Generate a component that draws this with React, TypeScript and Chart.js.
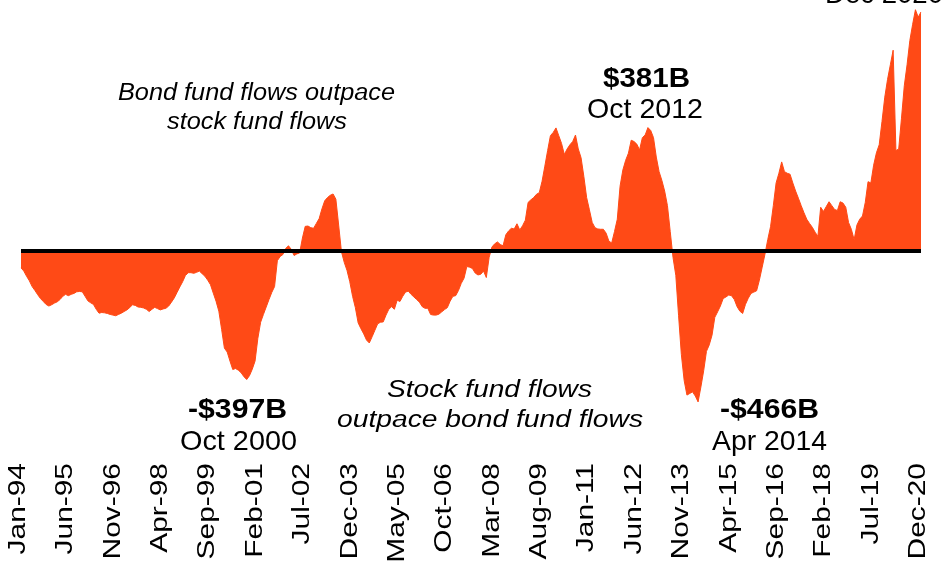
import React, { useEffect, useRef } from 'react';
import { Chart, registerables } from 'chart.js';

Chart.register(...registerables);

// ---- Data -------------------------------------------------------------
const MONTHS = ['Jan', 'Feb', 'Mar', 'Apr', 'May', 'Jun', 'Jul', 'Aug', 'Sep', 'Oct', 'Nov', 'Dec'];
const FIRST_YEAR = 1994;
const LAST_YEAR = 2020;

const categories: string[] = [];
for (let y = FIRST_YEAR; y <= LAST_YEAR; y++) {
  for (const m of MONTHS) categories.push(`${m}-${String(y % 100).padStart(2, '0')}`);
}

// Bond fund flows minus stock fund flows, trailing 12m, $ billions (monthly, Jan-94 .. Dec-20)
const netFlows: number[] = [
  -52, -62, -78, -92, -110, -122, -135, -147, -156, -165, -170, -166, // 1994
  -161, -157, -150, -140, -134, -138, -134, -131, -126, -125, -126, -140, // 1995
  -154, -160, -165, -180, -192, -190, -191, -193, -196, -198, -200, -196, // 1996
  -192, -187, -182, -175, -166, -168, -173, -174, -176, -180, -187, -180, // 1997
  -174, -178, -182, -179, -177, -170, -158, -145, -128, -111, -95, -76, // 1998
  -67, -67, -69, -66, -62, -70, -78, -90, -104, -130, -155, -186, // 1999
  -242, -300, -312, -340, -366, -363, -368, -376, -388, -397, -385, -365, // 2000
  -340, -270, -220, -196, -173, -150, -128, -110, -30, -17, -11, 8, // 2001
  16, 5, -14, -9, -6, 40, 76, 77, 72, 70, 85, 100, // 2002
  130, 155, 165, 172, 176, 160, 80, -2, -35, -60, -95, -140, // 2003
  -175, -222, -240, -256, -275, -284, -265, -245, -225, -220, -219, -198, // 2004
  -180, -172, -180, -152, -156, -140, -127, -124, -134, -142, -150, -158, // 2005
  -172, -177, -177, -196, -198, -198, -195, -188, -181, -175, -155, -140, // 2006
  -138, -122, -100, -84, -48, -50, -54, -68, -74, -72, -62, -82, // 2007
  -20, 12, 22, 28, 20, 16, 50, 62, 70, 68, 84, 65, // 2008
  78, 95, 150, 158, 165, 175, 180, 215, 262, 310, 356, 366, // 2009
  380, 356, 332, 298, 315, 328, 338, 358, 315, 288, 230, 165, // 2010
  127, 88, 72, 68, 67, 67, 55, 30, 25, 60, 98, 200, // 2011
  250, 280, 302, 342, 338, 330, 312, 350, 358, 381, 372, 350, // 2012
  290, 245, 218, 185, 140, 60, -20, -75, -200, -320, -400, -445, // 2013
  -440, -435, -448, -466, -420, -370, -310, -290, -260, -205, -188, -170, // 2014
  -147, -142, -136, -138, -150, -172, -186, -193, -165, -146, -131, -127, // 2015
  -123, -90, -50, -10, 35, 75, 140, 210, 240, 275, 245, 240, // 2016
  237, 210, 185, 163, 140, 118, 98, 85, 73, 58, 45, 135, // 2017
  122, 137, 152, 140, 128, 125, 152, 148, 135, 88, 67, 35, // 2018
  80, 98, 108, 150, 214, 210, 265, 303, 328, 400, 475, 530, // 2019
  575, 620, 310, 315, 410, 510, 575, 650, 700, 745, 722, 738, // 2020
];

const zeroLine: number[] = categories.map(() => 0);

const tickLabels = [
  'Jan-94', 'Jun-95', 'Nov-96', 'Apr-98', 'Sep-99', 'Feb-01', 'Jul-02', 'Dec-03', 'May-05', 'Oct-06',
  'Mar-08', 'Aug-09', 'Jan-11', 'Jun-12', 'Nov-13', 'Apr-15', 'Sep-16', 'Feb-18', 'Jul-19', 'Dec-20',
];

const calloutValues = ['$381B', '-$397B', '-$466B'];
const calloutDates = ['Oct 2012', 'Oct 2000', 'Apr 2014', 'Dec 2020'];
const noteBond = ['Bond fund flows outpace', 'stock fund flows'];
const noteStock = ['Stock fund flows', 'outpace bond fund flows'];

// ---- Drawing helpers ----------------------------------------------------
const ORANGE = 'rgb(255,74,22)';
const FONT = '"Liberation Sans", Arial, sans-serif';

function fitText(ctx: CanvasRenderingContext2D, text: string, cx: number, base: number, font: string, width: number) {
  ctx.save();
  ctx.font = font;
  const w = ctx.measureText(text).width;
  const s = width / w;
  ctx.translate(cx, base);
  ctx.scale(s, 1);
  ctx.textAlign = 'center';
  ctx.textBaseline = 'alphabetic';
  ctx.fillStyle = '#000';
  ctx.fillText(text, 0, 0);
  ctx.restore();
}

const overlayPlugin = {
  id: 'overlay',
  afterDraw(chart: any) {
    const ctx: CanvasRenderingContext2D = chart.ctx;
    const xs = chart.scales.x;
    // x tick labels, rotated
    tickLabels.forEach((lab) => {
      const idx = categories.indexOf(lab);
      const x = xs.getPixelForValue(idx);
      ctx.save();
      ctx.translate(x, 463);
      ctx.rotate(-Math.PI / 2);
      ctx.scale(1.3, 1);
      ctx.font = `23px ${FONT}`;
      ctx.fillStyle = '#000';
      ctx.textAlign = 'right';
      ctx.textBaseline = 'alphabetic';
      ctx.fillText(lab, 0, 4);
      ctx.restore();
    });

    const it = `italic 23px ${FONT}`;
    const bd = `bold 28px ${FONT}`;
    const rg = `28px ${FONT}`;
    fitText(ctx, noteBond[0], 256.5, 100, it, 277);
    fitText(ctx, noteBond[1], 257, 129, it, 180);
    fitText(ctx, noteStock[0], 489.5, 397, it, 205);
    fitText(ctx, noteStock[1], 490, 427, it, 306);

    fitText(ctx, calloutValues[0], 646.5, 87, bd, 87);
    fitText(ctx, calloutDates[0], 645, 118, rg, 116);
    fitText(ctx, calloutValues[1], 237.5, 418, bd, 99);
    fitText(ctx, calloutDates[1], 238.5, 450, rg, 117);
    fitText(ctx, calloutValues[2], 769.5, 418, bd, 99);
    fitText(ctx, calloutDates[2], 769.5, 450, rg, 115);
    fitText(ctx, calloutDates[3], 884, 3, rg, 118);
  },
};

export default function App() {
  const ref = useRef<HTMLCanvasElement | null>(null);
  useEffect(() => {
    if (!ref.current) return;
    const chart = new Chart(ref.current, {
      type: 'line',
      data: {
        labels: categories,
        datasets: [
          {
            label: 'zero',
            data: zeroLine,
            borderColor: '#000',
            borderWidth: 4,
            borderCapStyle: 'butt',
            pointRadius: 0,
            fill: false,
          },
          {
            label: 'Net flows',
            data: netFlows,
            borderColor: ORANGE,
            backgroundColor: ORANGE,
            borderWidth: 1,
            pointRadius: 0,
            tension: 0,
            fill: 'origin',
          },
        ],
      },
      options: {
        animation: false,
        responsive: false,
        maintainAspectRatio: false,
        layout: { padding: { left: 21, right: 30, top: 0, bottom: 108 } },
        plugins: { legend: { display: false }, tooltip: { enabled: false }, title: { display: false } },
        scales: {
          x: { display: false, offset: false },
          y: { display: false, min: -630, max: 775 },
        },
      },
      plugins: [overlayPlugin],
    } as any);
    return () => chart.destroy();
  }, []);
  return (
    <div style={{ position: 'fixed', left: 0, top: 0, width: 951, height: 563, background: '#fff' }}>
      <canvas ref={ref} width={951} height={563} style={{ display: 'block', width: 951, height: 563 }} />
    </div>
  );
}
